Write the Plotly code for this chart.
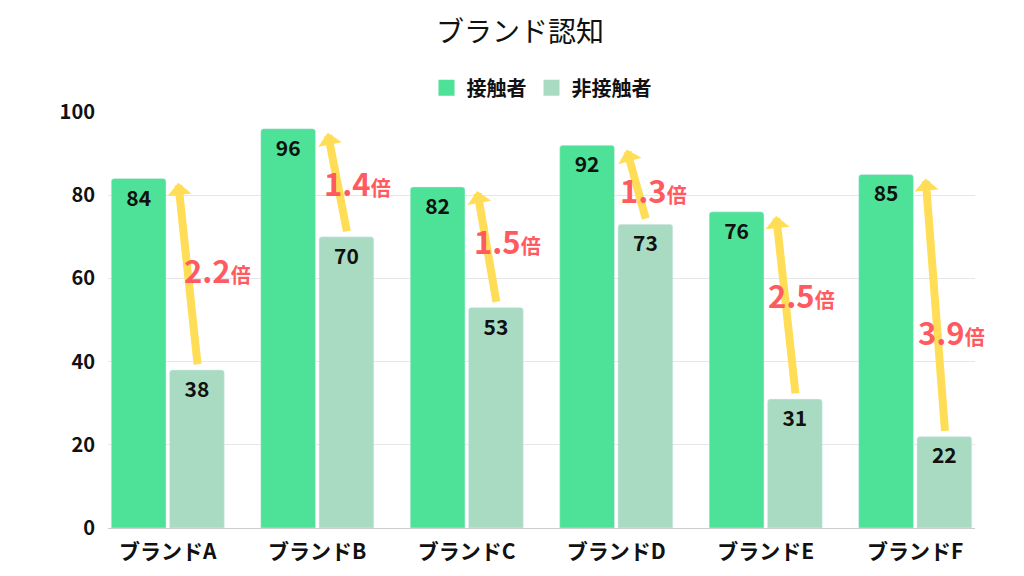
import plotly.graph_objects as go

# data
brands = ['ブランドA', 'ブランドB', 'ブランドC', 'ブランドD', 'ブランドE', 'ブランドF']
contact = [84, 96, 82, 92, 76, 85]
non_contact = [38, 70, 53, 73, 31, 22]
ratios = ['2.2', '1.4', '1.5', '1.3', '2.5', '3.9']

FONT = 'Noto Sans CJK JP'
GREEN = '#4DE297'
LIGHT = '#A9DBC3'
YELLOW = '#FFDD57'
RED = '#FF5A5F'

xs = list(range(len(brands)))

fig = go.Figure()
fig.add_trace(go.Bar(x=xs, y=contact, name='接触者', marker_color=GREEN,
                     showlegend=False, texttemplate='%{y}', textposition='inside',
                     insidetextanchor='end', textangle=0, constraintext='none',
                     textfont=dict(family=FONT, size=21, color='#111', weight='bold')))
fig.add_trace(go.Bar(x=xs, y=non_contact, name='非接触者', marker_color=LIGHT,
                     showlegend=False, texttemplate='%{y}', textposition='inside',
                     insidetextanchor='end', textangle=0, constraintext='none',
                     textfont=dict(family=FONT, size=21, color='#111', weight='bold')))

# legend entries with larger squares
for name, col in [('接触者', GREEN), ('非接触者', LIGHT)]:
    fig.add_trace(go.Scatter(x=[None], y=[None], mode='markers', name=name,
                             marker=dict(symbol='square', size=16, color=col)))

# yellow arrows from non-contact bar up to contact level, with ratio labels
label_dx = [9, 0, 0, -3, -5, -4]
label_dy = [5, 0, 7, -5, 11, -26]
for i in xs:
    fig.add_annotation(x=i + 0.07, y=contact[i] - 1, ax=i + 0.2, ay=non_contact[i] + 1,
                       xref='x', yref='y', axref='x', ayref='y', text='',
                       showarrow=True, arrowhead=1, arrowsize=0.5, arrowwidth=8,
                       arrowcolor=YELLOW, standoff=0, startstandoff=0)
    fig.add_annotation(x=i + 0.27, y=(contact[i] + non_contact[i]) / 2, xref='x', yref='y',
                       xshift=label_dx[i], yshift=label_dy[i], showarrow=False,
                       text=f"<b>{ratios[i]}</b><span style='font-size:20px'><b>倍</b></span>",
                       font=dict(family=FONT, size=31, color=RED))

fig.update_layout(
    width=1024, height=576,
    margin=dict(l=100, r=57, t=104, b=56),
    paper_bgcolor='white', plot_bgcolor='white',
    barmode='group', bargap=0.22, bargroupgap=0.06, barcornerradius=3,
    title=dict(text='ブランド認知', x=0.5, xanchor='center', y=0.958, yanchor='middle',
               font=dict(family=FONT, size=28, color='#111')),
    legend=dict(orientation='h', x=0.5, xanchor='center', y=1.058, yanchor='middle',
                font=dict(family=FONT, size=20, color='#111', weight='bold')),
    font=dict(family=FONT, color='#111'),
)
fig.update_xaxes(range=[-0.4, 5.4], tickvals=xs, ticktext=brands,
                 showline=True, linecolor='#cccccc', linewidth=1, showgrid=False,
                 ticklabelstandoff=5,
                 tickfont=dict(family=FONT, size=21, color='#111', weight='bold'))
fig.update_yaxes(range=[0, 100], dtick=20, showgrid=True, gridcolor='#e6e6e6',
                 zeroline=False, ticklabelstandoff=12,
                 tickfont=dict(family=FONT, size=20, color='#111', weight='bold'))

fig.write_html("out.html")
